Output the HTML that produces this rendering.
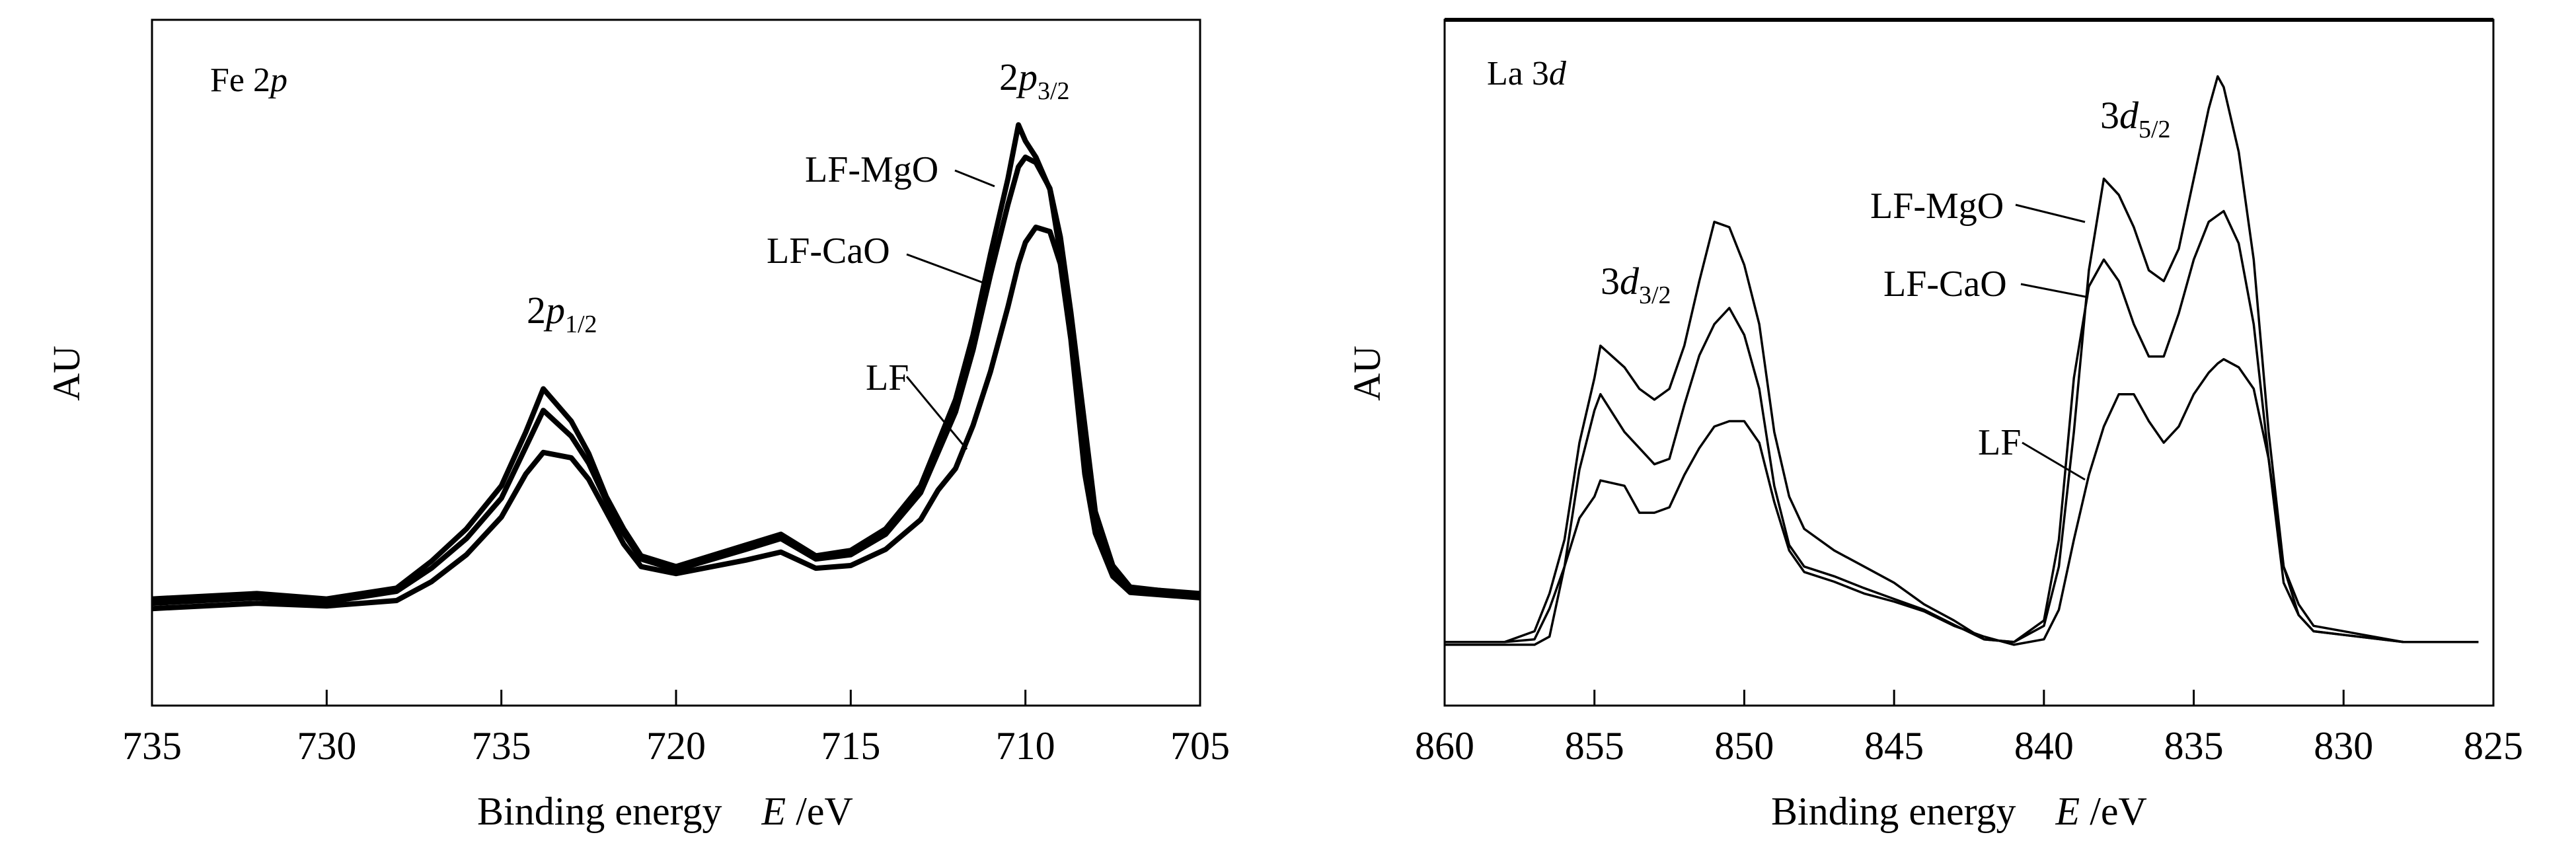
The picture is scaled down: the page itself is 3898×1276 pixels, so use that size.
<!DOCTYPE html>
<html><head><meta charset="utf-8"><style>
html,body{margin:0;padding:0;background:#fff}
svg{display:block}
text{font-family:"Liberation Serif","Times New Roman",Times,serif;fill:#000}
</style></head><body>
<svg id="fig" width="3898" height="1276" viewBox="0 0 3898 1276" xmlns="http://www.w3.org/2000/svg" style="position:absolute;left:0;top:0"></svg>
<script>
// ---- Fe 2p panel data (binding energy eV, intensity arbitrary counts) ----
const feE = [735,732,730,728,727,726,725,724.3,723.8,723,722.5,722,721.5,721,720,718,717,716,715,714,713,712.5,712,711.5,711,710.5,710.2,710,709.7,709.3,709,708.7,708.3,708,707.5,707,705];
const feMgO = [198,208,198,218,268,328,408,508,588,528,468,388,328,278,258,298,318,278,288,328,408,488,568,688,838,978,1078,1048,1018,958,838,688,458,328,248,218,208];
const feCaO = [190,200,192,212,255,310,385,480,548,500,450,380,320,272,252,290,310,272,280,318,395,470,545,660,800,930,1000,1018,1008,960,870,730,520,360,260,220,205];
const feLF  = [180,190,185,195,230,280,350,430,470,460,420,360,300,258,245,270,285,255,260,290,345,400,440,520,620,740,820,860,888,880,820,680,430,320,240,210,200];
// ---- La 3d panel data ----
const laE = [860,858,857,856.5,856,855.5,855,854.8,854,853.5,853,852.5,852,851.5,851,850.5,850,849.5,849,848.5,848,847,846,845,844,843,842,841,840,839.5,839,838.5,838,837.5,837,836.5,836,835.5,835,834.5,834.2,834,833.5,833,832.5,832,831.5,831,828,825.5];
const laMgO = [118,118,138,208,308,488,608,668,628,588,568,588,668,788,898,888,818,708,508,388,328,288,258,228,188,158,123,118,148,258,508,808,978,948,888,808,788,848,978,1108,1168,1148,1028,828,508,258,168,138,118,118];
const laCaO = [118,118,123,180,258,438,548,578,508,478,448,458,558,650,708,738,688,588,408,298,258,240,218,198,178,150,123,118,158,308,608,778,828,788,708,648,648,728,828,898,910,918,858,708,458,228,168,138,118,118];
const laLF  = [113,113,113,128,258,348,388,418,408,358,358,368,428,478,518,528,528,488,378,288,248,230,208,193,175,148,128,113,123,178,308,428,518,578,578,528,488,518,578,618,635,643,628,588,458,258,188,148,118,118];
const feTicks = ["735","730","735","720","715","710","705"];
const laTicks = ["860","855","850","845","840","835","830","825"];

const NS = "http://www.w3.org/2000/svg";
const svg = document.getElementById('fig');
function mk(tag, attrs, parent){const e=document.createElementNS(NS,tag);for(const k in attrs)e.setAttribute(k,attrs[k]);(parent||svg).appendChild(e);return e;}
const Y0=1068, Y1=30, IMAX=1273;
function yS(v){return Y0-(v/IMAX)*(Y0-Y1);}

function panel(cfg){
  const g=mk('g',{});
  
  
  const xS=e=>cfg.x0+(cfg.eMax-e)/(cfg.eMax-cfg.eMin)*(cfg.x1-cfg.x0);
  const box=mk('rect',{x:cfg.x0,y:Y1,width:cfg.x1-cfg.x0,height:Y0-Y1,fill:'none',stroke:'#000','stroke-width':3},g);
  
  
  if(cfg.thickTop){const t=mk('line',{x1:cfg.x0,x2:cfg.x1,y1:Y1,y2:Y1,stroke:'#000','stroke-width':6},g);
    }
  cfg.ticks.forEach((lab,i)=>{
    const e=cfg.eMax-i*5, x=xS(e);
    if(i>0&&i<cfg.ticks.length-1){const tl=mk('line',{x1:x,x2:x,y1:Y0,y2:Y0-24,stroke:'#000','stroke-width':3},g);
      }
    const t=mk('text',{x:x,y:1149,'font-size':60,'text-anchor':'middle'},g);t.textContent=lab;
    
    
  });
  cfg.series.forEach(s=>{
    let d='';cfg.E.forEach((e,i)=>{d+=(i?'L':'M')+xS(e).toFixed(1)+','+yS(s.v[i]).toFixed(1);});
    const p=mk('path',{d:d,fill:'none',stroke:'#000','stroke-width':cfg.sw,'stroke-linejoin':'round'},g);
    
    
  });
  return g;
}
panel({name:'fe-2p-panel',x0:230,x1:1816,eMax:735,eMin:705,E:feE,ticks:feTicks,sw:8,
  series:[{name:'series-lf-mgo',v:feMgO},{name:'series-lf-cao',v:feCaO},{name:'series-lf',v:feLF}]});
panel({name:'la-3d-panel',x0:2186,x1:3773,eMax:860,eMin:825,E:laE,ticks:laTicks,sw:3.5,thickTop:true,
  series:[{name:'series-lf-mgo',v:laMgO},{name:'series-lf-cao',v:laCaO},{name:'series-lf',v:laLF}]});
</script>
<svg style="position:absolute;left:0;top:0" width="3898" height="1276" xmlns="http://www.w3.org/2000/svg">
  <g fill="#000" stroke="none">
    <text x="318" y="138" font-size="52">Fe 2<tspan font-style="italic">p</tspan></text>
    <text x="1512" y="136" font-size="58">2<tspan font-style="italic">p</tspan><tspan font-size="38" dy="14">3/2</tspan></text>
    <text x="797" y="489" font-size="58">2<tspan font-style="italic">p</tspan><tspan font-size="38" dy="14">1/2</tspan></text>
    <text x="1218" y="275" font-size="56">LF-MgO</text>
    <text x="1160" y="398" font-size="56">LF-CaO</text>
    <text x="1310" y="590" font-size="56">LF</text>
    <text x="2250" y="128" font-size="52">La 3<tspan font-style="italic">d</tspan></text>
    <text x="3178" y="194" font-size="58">3<tspan font-style="italic">d</tspan><tspan font-size="38" dy="14">5/2</tspan></text>
    <text x="2422" y="445" font-size="58">3<tspan font-style="italic">d</tspan><tspan font-size="38" dy="14">3/2</tspan></text>
    <text x="2830" y="330" font-size="56">LF-MgO</text>
    <text x="2850" y="448" font-size="56">LF-CaO</text>
    <text x="2993" y="688" font-size="56">LF</text>
    <text transform="translate(120,565) rotate(-90)" font-size="58" text-anchor="middle">AU</text>
    <text transform="translate(2088,565) rotate(-90)" font-size="58" text-anchor="middle">AU</text>
    <text x="722" y="1248" font-size="60">Binding energy<tspan dx="60" font-style="italic">E</tspan> /eV</text>
    <text x="2680" y="1248" font-size="60">Binding energy<tspan dx="60" font-style="italic">E</tspan> /eV</text>
  </g>
  <g stroke="#000" stroke-width="3">
    <line x1="1445" y1="258" x2="1505" y2="282"/>
    <line x1="1372" y1="385" x2="1488" y2="428"/>
    <line x1="1372" y1="570" x2="1463" y2="680"/>
    <line x1="3050" y1="310" x2="3155" y2="336"/>
    <line x1="3058" y1="430" x2="3160" y2="450"/>
    <line x1="3060" y1="670" x2="3155" y2="726"/>
  </g>
</svg>
</body></html>
